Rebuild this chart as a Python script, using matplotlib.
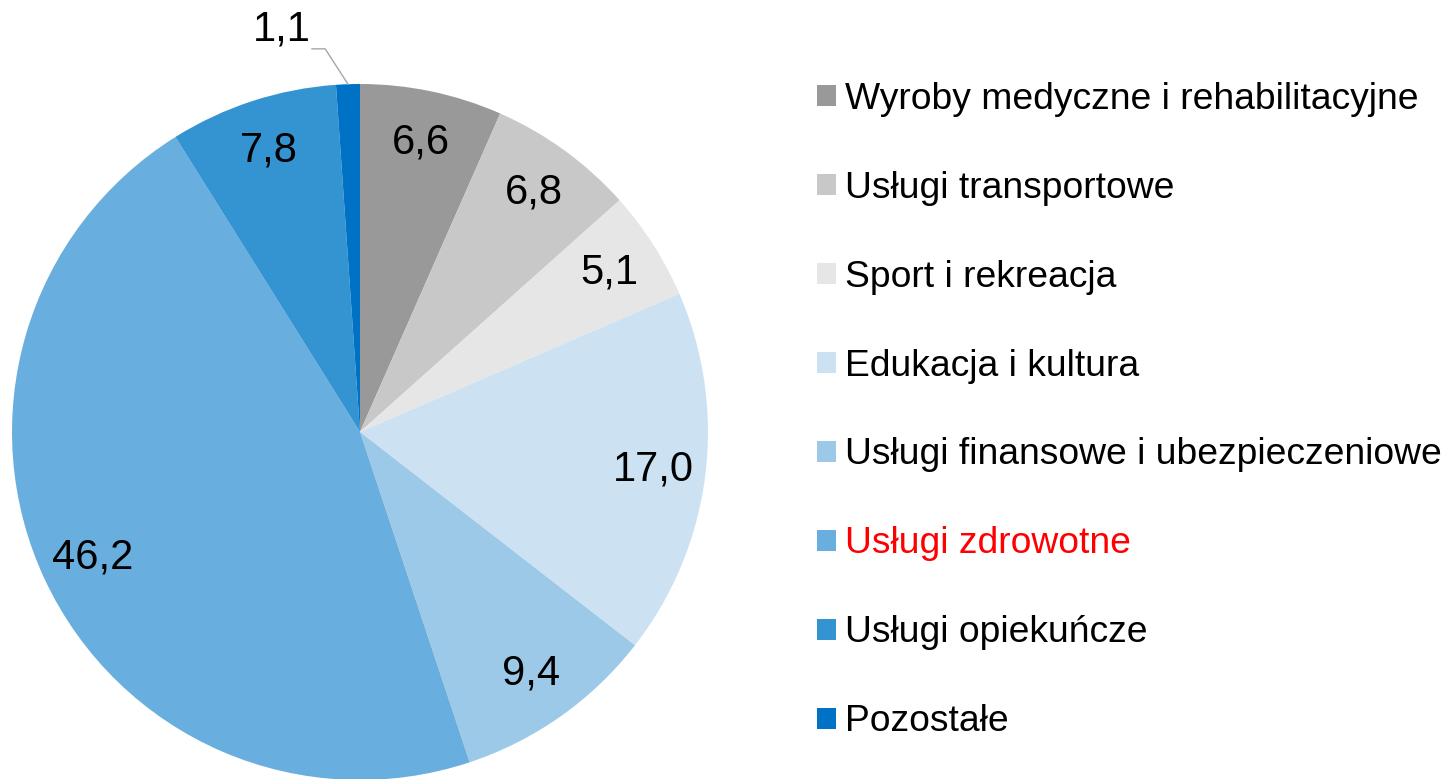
import numpy as np
import matplotlib.pyplot as plt
from matplotlib.patches import Patch

plt.rcParams['font.family'] = ['Liberation Sans', 'DejaVu Sans']

# dane
kategorie = ['Wyroby medyczne i rehabilitacyjne', 'Usługi transportowe',
             'Sport i rekreacja', 'Edukacja i kultura',
             'Usługi finansowe i ubezpieczeniowe', 'Usługi zdrowotne',
             'Usługi opiekuńcze', 'Pozostałe']
wartosci = [6.6, 6.8, 5.1, 17.0, 9.4, 46.2, 7.8, 1.1]
etykiety = ['6,6', '6,8', '5,1', '17,0', '9,4', '46,2', '7,8', '1,1']
kolory = ['#999999', '#c8c8c8', '#e6e6e6', '#cce2f3',
          '#9dc9e8', '#68aedf', '#3494d2', '#0072c6']

W, H = 1445, 779
fig = plt.figure(figsize=(W / 100, H / 100), dpi=100)
# kolo: srodek (360, 432), promien 348 px
r = 348
cx, cy = 360, 432
ax = fig.add_axes([(cx - r) / W, 1 - (cy + r) / H, 2 * r / W, 2 * r / H])

wedges, _ = ax.pie(wartosci, colors=kolory, startangle=90, counterclock=False,
                   radius=1, wedgeprops=dict(linewidth=0))
ax.set_xlim(-1, 1)
ax.set_ylim(-1, 1)
ax.axis('off')

for i, w in enumerate(wedges):
    kat = np.deg2rad((w.theta1 + w.theta2) / 2)
    if i == len(wedges) - 1:
        # ostatni wycinek - etykieta poza kolem z linia
        x0, y0 = np.cos(kat), np.sin(kat)
        ax.plot([x0, -0.10, -0.138], [y0, 1.101, 1.101],
                color='#a6a6a6', lw=1, clip_on=False)
        ax.text(-0.224, 1.158, etykiety[i], fontsize=30, ha='center',
                va='center', clip_on=False)
        continue
    d = 0.85
    ax.text(d * np.cos(kat), d * np.sin(kat), etykiety[i], fontsize=30,
            ha='center', va='center')

uchwyty = [Patch(facecolor=k, edgecolor='none') for k in kolory]
leg = fig.legend(uchwyty, kategorie, loc='center left',
                 bbox_to_anchor=(817 / W, 1 - 410.5 / H), frameon=False,
                 fontsize=26.8, handlelength=0.5, handleheight=0.5,
                 handletextpad=0.24, labelspacing=1.45, borderpad=0,
                 borderaxespad=0)
leg.get_texts()[5].set_color('#ff0000')

fig.savefig('out.png', dpi=100)
